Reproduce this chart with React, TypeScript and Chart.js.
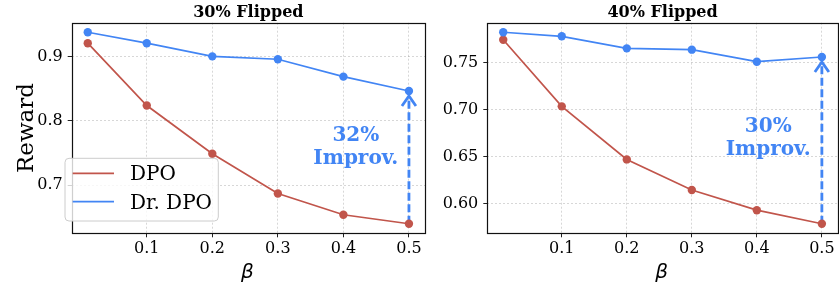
import React, { useEffect, useRef } from 'react';
import { Chart, registerables } from 'chart.js';

Chart.register(...registerables);

// ---------- data ----------
const betas = [0.01, 0.1, 0.2, 0.3, 0.4, 0.5];
const xTicks = [0.1, 0.2, 0.3, 0.4, 0.5];
const dpo30 = [0.921, 0.824, 0.749, 0.687, 0.654, 0.640];
const drdpo30 = [0.938, 0.921, 0.9005, 0.896, 0.869, 0.8466];
const dpo40 = [0.774, 0.7032, 0.6468, 0.6143, 0.5928, 0.5784];
const drdpo40 = [0.782, 0.7777, 0.7649, 0.7635, 0.7507, 0.7557];
const yTicks30 = [0.7, 0.8, 0.9];
const yTicks40 = [0.6, 0.65, 0.7, 0.75];
const panelTitles = ['30% Flipped', '40% Flipped'];
const improvementLabels = ['32%', '30%'];
const improvementWord = 'Improv.';
const seriesNames = ['DPO', 'Dr. DPO'];
const xAxisLabel = 'β';
const yAxisLabel = 'Reward';
// annotation text anchors (data coords of the first line's baseline)
const annotX = [0.419, 0.4175];
const annotY = [0.769, 0.676];

// ---------- styles ----------
const RED = '#C1554B';
const BLUE = '#4285F4';
const SERIF = '"DejaVu Serif", serif';

function paddedRange(arrs: number[][]) {
  const all = arrs.flat();
  const mn = Math.min(...all);
  const mx = Math.max(...all);
  const m = (mx - mn) * 0.05;
  return [mn - m, mx + m];
}

type PanelCfg = {
  idx: number;
  left: number;
  width: number;
  yAxisWidth: number;
  padRight: number;
  decimals: number;
  dpo: number[];
  drdpo: number[];
  yTicks: number[];
  legend: boolean;
  yLabel: boolean;
};

const panels: PanelCfg[] = [
  { idx: 0, left: 0, width: 432, yAxisWidth: 71.7, padRight: 7, decimals: 1, dpo: dpo30, drdpo: drdpo30, yTicks: yTicks30, legend: true, yLabel: true },
  { idx: 1, left: 432, width: 410, yAxisWidth: 55.3, padRight: 2, decimals: 2, dpo: dpo40, drdpo: drdpo40, yTicks: yTicks40, legend: false, yLabel: false },
];

function makeDecor(cfg: PanelCfg) {
  return {
    id: 'decor' + cfg.idx,
    beforeDatasetsDraw(chart: any) {
      const { ctx, scales } = chart;
      const last = betas.length - 1;
      const x = scales.x.getPixelForValue(betas[last]);
      const y0 = scales.y.getPixelForValue(cfg.dpo[last]);
      const y1 = scales.y.getPixelForValue(cfg.drdpo[last]) + 5;
      ctx.save();
      ctx.strokeStyle = BLUE;
      ctx.lineWidth = 2.8;
      ctx.setLineDash([8, 3.5]);
      ctx.beginPath();
      ctx.moveTo(x, y0);
      ctx.lineTo(x, y1 + 1);
      ctx.stroke();
      ctx.setLineDash([]);
      ctx.beginPath();
      ctx.moveTo(x - 7, y1 + 10);
      ctx.lineTo(x, y1);
      ctx.lineTo(x + 7, y1 + 10);
      ctx.stroke();
      ctx.restore();
    },
    afterDatasetsDraw(chart: any) {
      const { ctx, chartArea: a } = chart;
      ctx.save();
      ctx.strokeStyle = '#111';
      ctx.lineWidth = 1.2;
      ctx.strokeRect(Math.round(a.left) + 0.5, Math.round(a.top) + 0.5, Math.round(a.right) - Math.round(a.left), Math.round(a.bottom) - Math.round(a.top));
      ctx.restore();
    },
    afterDraw(chart: any) {
      const { ctx, chartArea: a, scales } = chart;
      ctx.save();
      // title
      ctx.fillStyle = '#000';
      ctx.font = `bold 16px ${SERIF}`;
      ctx.textAlign = 'center';
      ctx.textBaseline = 'alphabetic';
      ctx.fillText(panelTitles[cfg.idx], (a.left + a.right) / 2, 16.7);
      // x label
      ctx.font = `italic 20px "DejaVu Sans", sans-serif`;
      ctx.fillText(xAxisLabel, (a.left + a.right) / 2 - 1, 277.5);
      // y label
      if (cfg.yLabel) {
        ctx.save();
        ctx.translate(33, (a.top + a.bottom) / 2);
        ctx.rotate(-Math.PI / 2);
        ctx.font = `23px ${SERIF}`;
        ctx.fillText(yAxisLabel, 0, 0);
        ctx.restore();
      }
      // annotation
      const tx = scales.x.getPixelForValue(annotX[cfg.idx]);
      const ty = scales.y.getPixelForValue(annotY[cfg.idx]);
      ctx.fillStyle = BLUE;
      ctx.font = `bold 20px ${SERIF}`;
      ctx.fillText(improvementLabels[cfg.idx], tx, ty);
      ctx.fillText(improvementWord, tx, ty + 23.5);
      // legend
      if (cfg.legend) {
        const lx = a.left - 6.7;
        const lw = 153.3;
        const lh = 62.7;
        const ly = a.bottom - 12.3 - lh;
        ctx.beginPath();
        const r = 4;
        ctx.moveTo(lx + r, ly);
        ctx.arcTo(lx + lw, ly, lx + lw, ly + lh, r);
        ctx.arcTo(lx + lw, ly + lh, lx, ly + lh, r);
        ctx.arcTo(lx, ly + lh, lx, ly, r);
        ctx.arcTo(lx, ly, lx + lw, ly, r);
        ctx.closePath();
        ctx.fillStyle = 'rgba(255,255,255,0.8)';
        ctx.fill();
        ctx.strokeStyle = '#cccccc';
        ctx.lineWidth = 1;
        ctx.stroke();
        const colors = [RED, BLUE];
        ctx.font = `20px ${SERIF}`;
        ctx.textAlign = 'left';
        seriesNames.forEach((name, i) => {
          const cy = ly + 15 + i * 28.4;
          ctx.strokeStyle = colors[i];
          ctx.lineWidth = 1.8;
          ctx.beginPath();
          ctx.moveTo(lx + 7.7, cy);
          ctx.lineTo(lx + 49, cy);
          ctx.stroke();
          ctx.fillStyle = '#000';
          ctx.fillText(name, lx + 65, cy + 6.9);
        });
      }
      ctx.restore();
    },
  };
}

function Panel({ cfg }: { cfg: PanelCfg }) {
  const ref = useRef<HTMLCanvasElement>(null);
  useEffect(() => {
    const [xmin, xmax] = paddedRange([betas]);
    const [ymin, ymax] = paddedRange([cfg.dpo, cfg.drdpo]);
    const gridCommon = {
      color: 'rgba(0,0,0,0.2)',
      lineWidth: 0.8,
      drawTicks: true,
      tickLength: 4,
      tickColor: '#222',
      tickWidth: 1,
      tickBorderDash: [],
    };
    const chart = new Chart(ref.current as HTMLCanvasElement, {
      type: 'line',
      data: {
        datasets: [
          {
            label: seriesNames[1],
            data: betas.map((b, i) => ({ x: b, y: cfg.drdpo[i] })),
            borderColor: BLUE,
            backgroundColor: BLUE,
            borderWidth: 1.7,
            pointRadius: 4.2,
            pointBorderWidth: 0,
            tension: 0,
            order: 0,
          },
          {
            label: seriesNames[0],
            data: betas.map((b, i) => ({ x: b, y: cfg.dpo[i] })),
            borderColor: RED,
            backgroundColor: RED,
            borderWidth: 1.7,
            pointRadius: 4.2,
            pointBorderWidth: 0,
            tension: 0,
            order: 1,
          },
        ],
      },
      options: {
        animation: false,
        responsive: false,
        devicePixelRatio: 1,
        layout: { padding: { top: 22.7, right: cfg.padRight, left: 0, bottom: 0 } },
        plugins: { legend: { display: false }, title: { display: false }, tooltip: { enabled: false } },
        scales: {
          x: {
            type: 'linear',
            min: xmin,
            max: xmax,
            bounds: 'data',
            afterBuildTicks: (s: any) => {
              s.ticks = xTicks.map((v) => ({ value: v }));
            },
            afterFit: (s: any) => {
              s.height = 53.7;
            },
            ticks: {
              callback: (v: any) => Number(v).toFixed(1),
              font: { family: SERIF, size: 16 },
              color: '#000',
              padding: 2,
              maxRotation: 0,
              autoSkip: false,
            },
            grid: gridCommon,
            border: { display: false, dash: [2, 2] },
          },
          y: {
            type: 'linear',
            min: ymin,
            max: ymax,
            bounds: 'data',
            afterBuildTicks: (s: any) => {
              s.ticks = cfg.yTicks.map((v) => ({ value: v }));
            },
            afterFit: (s: any) => {
              s.width = cfg.yAxisWidth;
            },
            ticks: {
              callback: (v: any) => Number(v).toFixed(cfg.decimals),
              font: { family: SERIF, size: 16 },
              color: '#000',
              padding: 5,
              autoSkip: false,
            },
            grid: gridCommon,
            border: { display: false, dash: [2, 2] },
          },
        },
      } as any,
      plugins: [makeDecor(cfg)],
    });
    return () => chart.destroy();
  }, []);
  return (
    <canvas
      ref={ref}
      width={cfg.width}
      height={287}
      style={{ position: 'absolute', left: cfg.left, top: 0, width: cfg.width, height: 287 }}
    />
  );
}

export default function App() {
  return (
    <div style={{ position: 'fixed', left: 0, top: 0, width: 839, height: 287, overflow: 'hidden', background: '#fff' }}>
      {panels.map((p) => (
        <Panel key={p.idx} cfg={p} />
      ))}
    </div>
  );
}
